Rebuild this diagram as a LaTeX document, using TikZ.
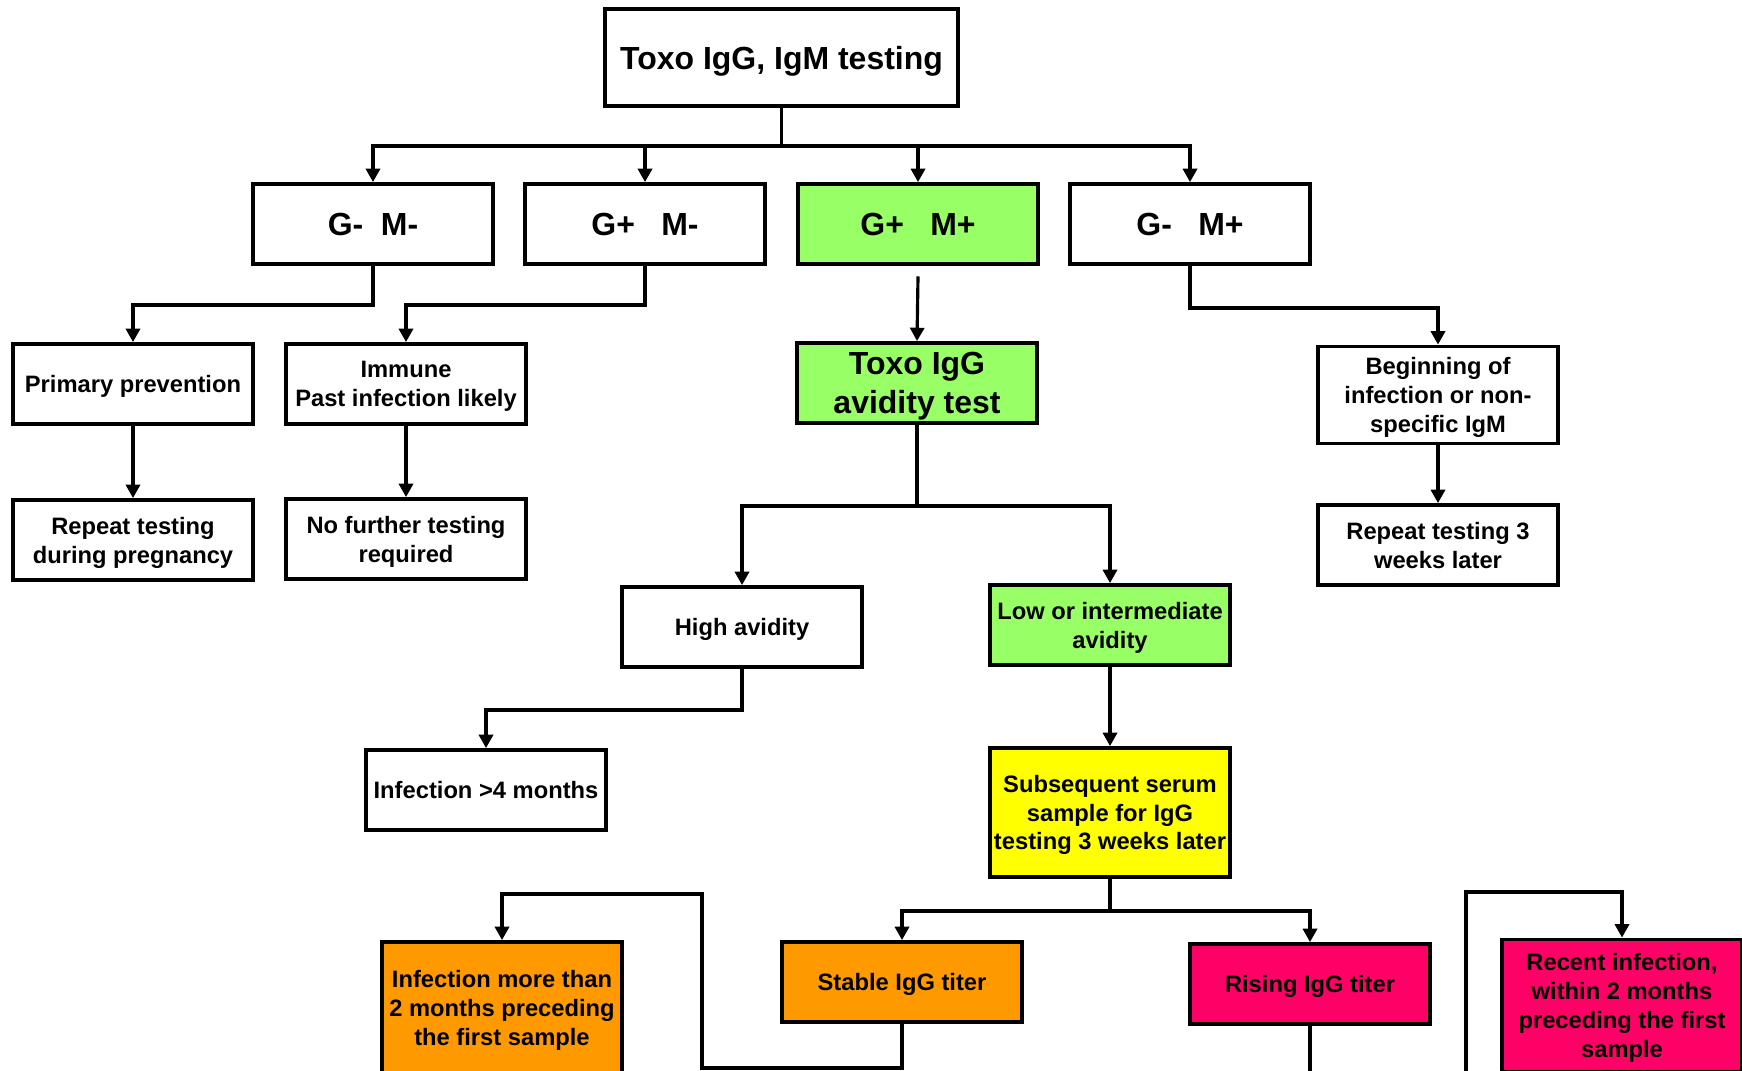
\documentclass[tikz,border=0pt]{standalone}
\usepackage{fontspec}
\setmainfont{Liberation Sans}
\usetikzlibrary{arrows.meta}
\definecolor{avgreen}{RGB}{153,255,102}
\definecolor{avyellow}{RGB}{255,255,0}
\definecolor{avorange}{RGB}{255,153,0}
\definecolor{avpink}{RGB}{255,0,102}
\newcommand{\smalltxt}{\fontsize{6.75}{8.2}\selectfont\bfseries}
\newcommand{\bigtxt}{\fontsize{9.1}{11.1}\selectfont\bfseries}
\tikzset{
    >={Triangle[length=3.8pt,width=4pt]},
    box/.style={draw, line width=1.1pt, minimum width=24mm, minimum height=8mm,
        inner sep=1pt, align=center, font=\smalltxt, text depth=-1.6pt},
    bigbox/.style={box, font=\bigtxt, text depth=-0.5pt},
    result/.style={bigbox, text depth=-1.5pt},
    link/.style={line width=0.9pt},
}

\begin{document}
\begin{tikzpicture}[x=0.1mm, y=-0.1mm]
\useasboundingbox (0,0) rectangle (1742,1070);
\clip (0,0) rectangle (1742,1070);

\node[bigbox, minimum width=35.3mm, minimum height=9.7mm] (test) at (781.5,57.5) {Toxo IgG, IgM testing};

\node[result] (gnmn) at (373,224) {G-\hspace{5pt}M-};
\node[result] (gpmn) at (645,224) {G+\hspace{7.5pt}M-};
\node[result, fill=avgreen] (gpmp) at (918,224) {G+\hspace{7.5pt}M+};
\node[result] (gnmp) at (1190,224) {G-\hspace{7.5pt}M+};

\node[box] (prim) at (133,384) {Primary prevention};
\node[box] (immune) at (406,384) {Immune\\Past infection likely};
\node[bigbox, fill=avgreen] (avid) at (917,383) {Toxo IgG\\avidity test};
\node[box, minimum height=9.7mm] (begin) at (1438,395) {Beginning of\\infection or non-\\specific IgM};

\node[box] (repeat) at (133,540) {Repeat testing\\during pregnancy};
\node[box] (nofurther) at (406,539) {No further testing\\required};
\node[box] (repeatlater) at (1438,545) {Repeat testing 3\\weeks later};

\node[box] (high) at (742,627) {High avidity};
\node[box, fill=avgreen] (low) at (1110,625) {Low or intermediate\\avidity};

\node[box] (inflong) at (486,790) {Infection >4 months};
\node[box, fill=avyellow, minimum height=12.9mm] (serum) at (1110,812.5) {Subsequent serum\\sample for IgG\\testing 3 weeks later};

\node[box, fill=avorange] (stable) at (902,982) {Stable IgG titer};
\node[box, fill=avpink] (rising) at (1310,984) {Rising IgG titer};
\node[box, fill=avorange, minimum height=13.2mm] (infold) at (502,1008) {Infection more than\\2 months preceding\\the first sample};
\node[box, fill=avpink, minimum height=13.2mm] (recent) at (1622,1005.5) {Recent infection,\\within 2 months\\preceding the first\\sample};

\coordinate (loopa) at (702,1068);
\coordinate (loopb) at (702,894);
\coordinate (loopc) at (1466,1090);
\coordinate (loopd) at (1466,892);

% test
\foreach \n in {gnmn,gpmn,gpmp,gnmp}
    \draw[link,->] (test.south) -- ++(0,38) -| (\n.north);

% G- M- and G+ M-
\draw[link,->] (gnmn.south) -- ++(0,39) -| (prim.north);
\draw[link,->] (prim) -- (repeat);
\draw[link,->] (gpmn.south) -- ++(0,39) -| (immune.north);
\draw[link,->] (immune) -- (nofurther);

% G+ M+
\draw[link,->] ([yshift=-3pt]gpmp.south) -- (avid.north);
\draw[link,->] (avid.south) -- ++(0,81) -| (high.north);
\draw[link,->] (avid.south) -- ++(0,81) -| (low.north);
\draw[link,->] (high.south) -- ++(0,41) -| (inflong.north);
\draw[link,->] (low) -- (serum);
\draw[link,->] (serum.south) -- ++(0,32) -| (stable.north);
\draw[link,->] (serum.south) -- ++(0,32) -| (rising.north);
\draw[link,->] (stable.south) |- (loopa) -- (loopb) -| (infold.north);
\draw[link,->] (rising.south) |- (loopc) -- (loopd) -| (recent.north);

% G- M+
\draw[link,->] (gnmp.south) -- ++(0,42) -| (begin.north);
\draw[link,->] (begin) -- (repeatlater);

\end{tikzpicture}
\end{document}
